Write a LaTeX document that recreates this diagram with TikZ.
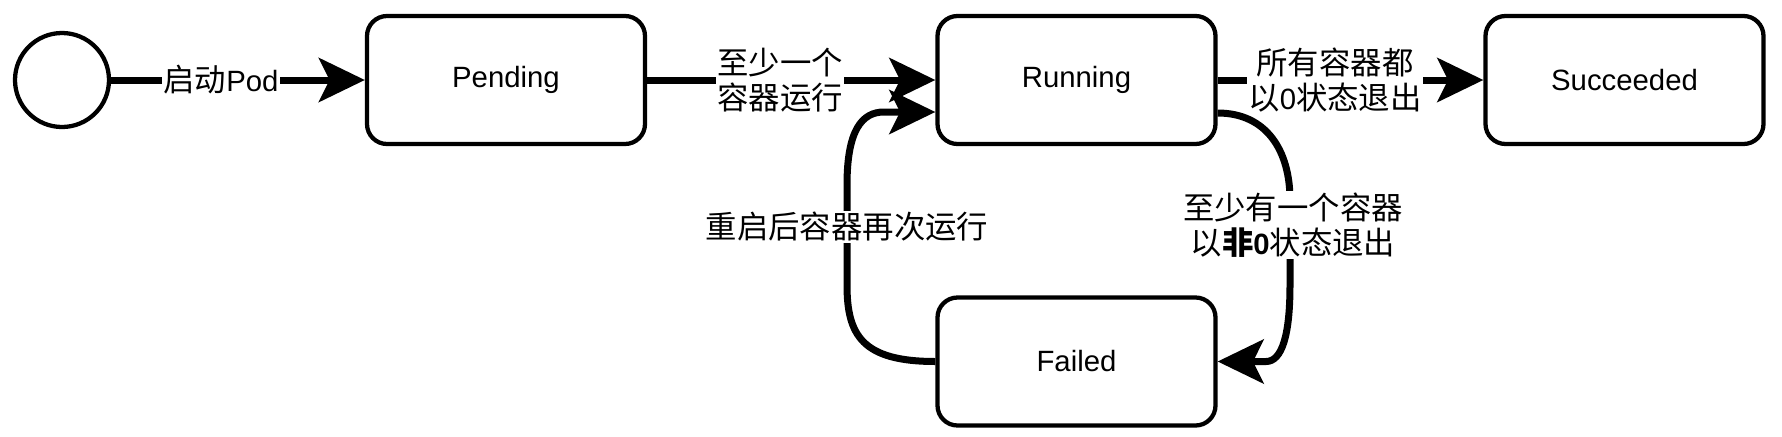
\documentclass[tikz,border=0pt]{standalone}
\usepackage{fontspec}
\setmainfont{Liberation Sans}
\newfontfamily\cjk[Scale=1.07]{Noto Sans CJK SC}
\usetikzlibrary{arrows.meta,calc}
\begin{document}
\begin{tikzpicture}[x=0.75pt,y=-0.75pt,
  font=\fontsize{22pt}{26.5pt}\selectfont,
  state/.style={draw,line width=3.2pt,rounded corners=15pt,minimum width=208.5pt,minimum height=96pt,fill=white},
  edge/.style={line width=5.25pt,-{Stealth[length=34.5pt,width=33pt,inset=8pt]}},
  lbl/.style={fill=white,inner sep=1pt,align=center}]
\useasboundingbox (0,0) rectangle (1782,436);

\node[draw,circle,line width=3.2pt,minimum size=70.5pt,inner sep=0pt] (S) at (62,80) {};
\node[state] (P) at (506,80) {Pending};
\node[state] (R) at (1076.5,80) {Running};
\node[state] (C) at (1624.5,80) {Succeeded};
\node[state] (F) at (1076.5,361.5) {Failed};

\coordinate (Rin) at ($(R.west)+(0,32)$);
\coordinate (Rout) at ($(R.east)+(0,33)$);

\draw[edge] (S) -- (P);
\draw[edge] (P) -- (R);
\draw[edge] (R) -- (C);

\draw[edge] (F.west) .. controls (862,361.5) and (847,335) .. (847,285) -- (847,185)
  .. controls (847,130) and (862,112) .. (884,112) -- (Rin);
\draw[edge] (Rout) .. controls (1266,113) and (1290,150) .. (1290,200) -- (1290,285)
  .. controls (1290,335) and (1282,361.5) .. (1266,361.5) -- (F.east);

\node[lbl] (l1) at (221,80) {{\cjk 启动}Pod};
\node[lbl] (l2) at (780,80) {\cjk 至少一个\\\cjk 容器运行};
\node[lbl] (l3) at (1335,80) {\cjk 所有容器都\\{\cjk 以}0{\cjk 状态退出}};
\node[lbl] (l4) at (1293,225) {\cjk 至少有一个容器\\{\cjk 以}{\cjk\bfseries 非}\textbf{0}{\cjk 状态退出}};
\node[lbl] (l5) at (847,227) {\cjk 重启后容器再次运行};
\end{tikzpicture}
\end{document}
